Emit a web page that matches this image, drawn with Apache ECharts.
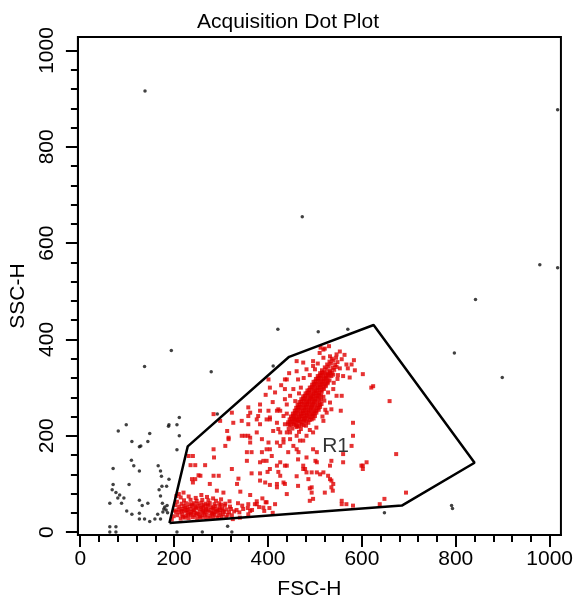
<!DOCTYPE html>
<html><head><meta charset="utf-8">
<script src="https://cdn.jsdelivr.net/npm/echarts@6/dist/echarts.min.js"></script>
<style>html,body{margin:0;padding:0;background:#fff}#c{width:576px;height:605px}</style>
</head><body><div id="c"></div>
<script>
const chartTitle = 'Acquisition Dot Plot';
const xName = 'FSC-H';
const yName = 'SSC-H';
const majorTicks = [0, 200, 400, 600, 800, 1000];
const minorTicks = [0,40,80,120,160,200,240,280,320,360,400,440,480,520,560,600,640,680,720,760,800,840,880,920,960,1000];
const gateName = 'R1';
const gateVertices = [[190,19],[229,178],[445,364],[625,430],[840,144],[685,55],[190,19]];
const gateLabelAt = [[544,178]];

// events outside the gate (black)
const ungatedEvents = [
[138,916],[473,655],[1017,877],[979,555],[1017,549],[842,483],[421,421],[507,416],[570,421],[194,377],
[797,372],[279,333],[137,344],[411,345],[292,245],[899,321],[791,55],[648,40],[793,49],
[98,223],[81,210],[189,223],[206,223],[211,238],[148,205],[110,188],[144,188],[126,177],[211,200],
[206,171],[109,149],[114,138],[126,127],[70,132],[166,138],[171,127],[173,116],[189,110],[104,99],
[70,99],[68,88],[76,82],[84,77],[80,71],[93,71],[63,60],[88,60],[174,95],[168,88],[184,95],[171,75],
[126,66],[144,60],[132,55],[99,44],[110,37],[126,39],[126,27],[137,27],[148,22],[159,27],[165,37],
[171,27],[178,48],[185,55],[175,60],[180,52],[183,46],[176,42],[186,40],[63,11],[76,11],[63,0],[76,0],
[206,0],[260,0],[314,12],[323,0],[188,220],[129,179]
];

// events inside gate R1 (red)
const gatedEvents = [
// lower population (dense)
[214,28],[223,30],[231,29],[240,31],[249,29],[257,30],[266,31],[274,29],[283,31],[292,30],[301,32],[311,31],
[207,35],[217,36],[226,34],[235,36],[243,35],[252,37],[260,35],[269,36],[277,34],[286,36],[295,35],[304,37],[314,36],[323,35],
[204,42],[212,41],[221,43],[229,41],[238,42],[246,40],[255,42],[263,41],[272,43],[280,41],[289,42],[298,40],[307,42],[317,41],[328,43],[339,41],
[209,47],[217,48],[225,46],[234,48],[242,47],[251,49],[259,47],[268,48],[276,46],[285,48],[293,47],[302,49],[312,47],[321,48],[333,46],[347,48],
[211,53],[220,54],[228,52],[237,54],[245,53],[254,55],[262,53],[271,54],[279,52],[288,54],[297,53],[308,55],[319,53],
[216,59],[225,60],[233,58],[242,60],[250,59],[258,61],[267,59],[276,60],[286,58],[296,60],[309,59],
[221,66],[235,67],[248,65],[260,67],[273,66],[289,65],
[195,26],[199,33],[201,45],[203,56],[206,63],
[219,32],[236,39],[262,44],[281,38],[247,51],[272,57],[229,45],[292,44],[255,33],[304,45],
[230,37],[248,38],[265,39],[284,40],[216,44],[242,45],[268,46],[297,46],[224,51],[258,51],[283,50],[239,57],[263,56],[300,57],
// lower population fringe
[205,75],[214,72],[231,74],[246,71],[258,77],[270,73],[283,70],[300,68],[318,64],[336,60],[345,55],[357,50],
[366,46],[372,58],[381,52],[392,44],[403,50],[410,40],[358,37],[340,30],[325,27],[376,64],[395,62],[415,58],
[388,70],[362,77],[341,84],[305,82],[291,86],[276,100],[240,103],[220,82],[210,79],[252,118],[295,117],
[337,111],[365,122],[383,122],[399,125],[422,125],[461,116],[479,131],[511,120],[535,107],[394,103],[404,98],
[419,93],[436,100],[440,79],[489,91],[493,82],[489,65],[535,93],[557,58],[567,58],[538,86],[397,62],[390,51],
[362,44],[358,58],[376,58],
// scattered between populations
[383,265],[362,248],[383,252],[401,252],[419,252],[404,238],[344,200],[351,200],[358,200],[326,227],[358,224],
[376,207],[387,193],[313,210],[316,193],[309,179],[284,172],[240,158],[235,139],[245,139],[266,139],[285,155],
[323,131],[355,148],[365,166],[387,166],[404,172],[401,186],[419,186],[433,186],[443,166],[461,172],[465,166],
[397,148],[426,145],[436,138],[404,131],[419,138],[475,131],[482,124],[493,124],[504,124],[518,124],[532,138],
[535,148],[501,148],[482,155],[504,166],[560,145],[560,162],[610,145],[602,138],[602,131],[578,179],[581,227],
[659,272],[673,162],[355,166],[362,186],[390,148],[447,193],[468,190],[496,172],[440,207],[426,207],[443,224],
[457,234],[376,234],[344,231],[298,231],[284,245],[323,248],[284,117],[245,110],[256,117],[238,110],[334,100],
[383,107],[419,100],[486,110],[532,110],[231,158],[316,196],[362,196],[358,241],[358,259],[379,241],[383,224],
[397,234],[404,300],[440,317],[436,276],[422,255],[422,214],[397,172],[408,158],[383,145],[426,117],[440,138],
[464,151],[475,138],[504,145],[528,117],[539,100],[493,93],[496,69],[464,96],[433,103],[557,65],[599,138],
[624,303],[401,317],[638,58],[648,69],[581,55],[521,82],[694,82],[581,200],[602,328],[415,290],[428,305],
[410,270],[395,285],[445,330],
// upper population (dense, ragged)
[452,215],[461,218],[470,214],
[446,222],[455,224],[463,220],[472,223],[481,221],
[443,228],[451,230],[460,227],[468,229],[477,231],[486,227],
[446,234],[455,236],[463,233],[472,235],[480,237],[489,233],[497,236],
[449,240],[457,242],[466,239],[474,241],[483,243],[491,239],[500,241],
[453,246],[461,248],[470,245],[478,247],[487,249],[495,245],[503,248],
[457,252],[465,254],[474,251],[482,253],[491,255],[499,251],[508,254],
[460,258],[468,260],[477,257],[486,259],[494,261],[503,257],[511,260],
[463,264],[472,266],[480,263],[489,265],[497,267],[506,263],[514,266],
[467,270],[476,272],[484,269],[493,271],[501,273],[510,269],
[471,276],[479,278],[488,275],[496,277],[505,279],[513,275],
[475,282],[484,284],[492,281],[501,283],[509,285],[518,281],
[480,288],[488,290],[497,287],[505,289],[514,291],
[484,294],[493,296],[501,293],[510,295],[519,297],
[489,300],[497,302],[506,299],[514,301],[523,303],
[494,306],[502,308],[511,305],[519,307],[527,309],
[497,312],[506,314],[514,311],[523,313],[531,315],
[502,318],[510,320],[519,317],[527,319],
[506,324],[514,326],[523,323],[531,325],[539,327],
[511,330],[519,332],[528,329],[536,331],
[515,336],[524,338],[532,335],[541,337],
[521,342],[529,344],[538,341],[546,343],
[526,348],[534,350],[543,347],
[531,354],[539,356],[548,353],
[536,360],[545,362],
[450,223],[459,222],[467,221],[476,222],
[447,229],[455,228],[464,230],[472,228],[481,229],
[450,235],[459,234],[467,236],[476,234],[484,235],[493,234],
[453,241],[461,240],[470,242],[478,240],[487,241],[495,242],
[457,247],[465,246],[474,248],[482,246],[491,247],[499,246],
[461,253],[469,252],[478,254],[486,252],[495,253],[503,252],
[464,259],[472,258],[481,260],[490,258],[498,259],[507,258],
[467,265],[476,264],[484,266],[493,264],[501,265],[510,264],
[471,271],[480,270],[488,272],[497,270],[505,271],
[475,277],[483,276],[492,278],[500,276],[509,277],
[479,283],[488,282],[496,284],[505,282],[513,283],
[484,289],[492,288],[501,290],[509,288],
[488,295],[497,294],[505,296],[514,294],
[493,301],[501,300],[510,302],[518,300],
[498,307],[506,306],[515,308],[523,306],
[501,313],[510,312],[518,314],[527,312],
[506,319],[514,318],[523,320],
[510,325],[518,324],[527,326],[535,324],
[515,331],[523,330],[532,332],
// upper population fringe
[532,365],[546,369],[557,359],[567,348],[578,348],[549,326],[560,324],[574,321],[553,340],[426,252],[433,241],
[419,227],[436,224],[440,265],[447,283],[454,297],[436,297],[464,317],[461,334],[482,338],[475,352],[496,345],
[518,362],[510,372],[521,381],[539,297],[546,283],[532,269],[535,255],[525,248],[518,231],[503,217],[496,207],
[482,200],[557,283],[555,252],[447,207],[461,200],[475,190],[454,179],[433,193],[426,179],[411,210],[404,234],
[518,379],[553,375],[563,368],[496,355],[461,355],[436,317],[512,383],[530,386],[620,300],[470,300],[476,320],
[466,288],[458,272],[440,246],[522,254],[528,290],[540,310],[548,318],[489,326],[500,338],[506,350],[585,336],
[570,340],[583,357],[444,214],[466,208],[489,212],[516,240],[520,273]
];

const font = '"Liberation Sans", Arial, sans-serif';
const chart = echarts.init(document.getElementById('c'), null, {renderer: 'canvas'});
const black = '#000';
const plain = v => String(v);
chart.setOption({
  animation: false,
  backgroundColor: '#fff',
  title: {text: chartTitle, left: 'center', top: 7,
    textStyle: {fontFamily: font, fontSize: 21, fontWeight: 'normal', color: black}},
  grid: {left: 77, right: 14, top: 37, bottom: 69, show: true, borderColor: black, borderWidth: 2, backgroundColor: '#fff'},
  xAxis: [
    {type: 'value', min: -5, max: 1024, position: 'bottom',
     splitLine: {show: false},
     axisLine: {show: true, onZero: false, lineStyle: {color: black, width: 2}},
     axisTick: {show: true, customValues: majorTicks, length: 12, lineStyle: {color: black, width: 2}},
     axisLabel: {customValues: majorTicks, formatter: plain, margin: 14, fontSize: 21, color: black, fontFamily: font},
     name: xName, nameLocation: 'middle', nameGap: 44,
     nameTextStyle: {fontSize: 21, color: black, fontFamily: font, padding: [0, 20, 0, 0]}},
    {type: 'value', min: -5, max: 1024, position: 'bottom',
     splitLine: {show: false}, axisLine: {show: false, onZero: false},
     axisTick: {show: true, customValues: minorTicks, length: 7, lineStyle: {color: black, width: 2}},
     axisLabel: {show: false}}
  ],
  yAxis: [
    {type: 'value', min: -6, max: 1028, position: 'left',
     splitLine: {show: false},
     axisLine: {show: true, onZero: false, lineStyle: {color: black, width: 2}},
     axisTick: {show: true, customValues: majorTicks, length: 12, lineStyle: {color: black, width: 2}},
     axisLabel: {customValues: majorTicks, formatter: plain, rotate: 90, margin: 20, fontSize: 21, color: black, fontFamily: font},
     name: yName, nameLocation: 'middle', nameGap: 46,
     nameTextStyle: {fontSize: 21, color: black, fontFamily: font, padding: [0, 20, 0, 0]}},
    {type: 'value', min: -6, max: 1028, position: 'left',
     splitLine: {show: false}, axisLine: {show: false, onZero: false},
     axisTick: {show: true, customValues: minorTicks, length: 7, lineStyle: {color: black, width: 2}},
     axisLabel: {show: false}}
  ],
  series: [
    {type: 'scatter', name: 'outside', data: ungatedEvents, symbol: 'circle', symbolSize: 3.5,
     itemStyle: {color: '#111'}, z: 2, silent: true},
    {type: 'scatter', name: gateName, data: gatedEvents, symbol: 'rect', symbolSize: 4,
     itemStyle: {color: '#e00000'}, z: 3, silent: true},
    {type: 'line', name: 'gate', data: gateVertices, symbol: 'none', z: 5, silent: true,
     lineStyle: {color: black, width: 2.5}},
    {type: 'scatter', name: 'label', data: gateLabelAt, symbolSize: 0, z: 6, silent: true,
     label: {show: true, position: 'inside', formatter: gateName, fontSize: 21, color: black, fontFamily: font}}
  ]
});
</script></body></html>
